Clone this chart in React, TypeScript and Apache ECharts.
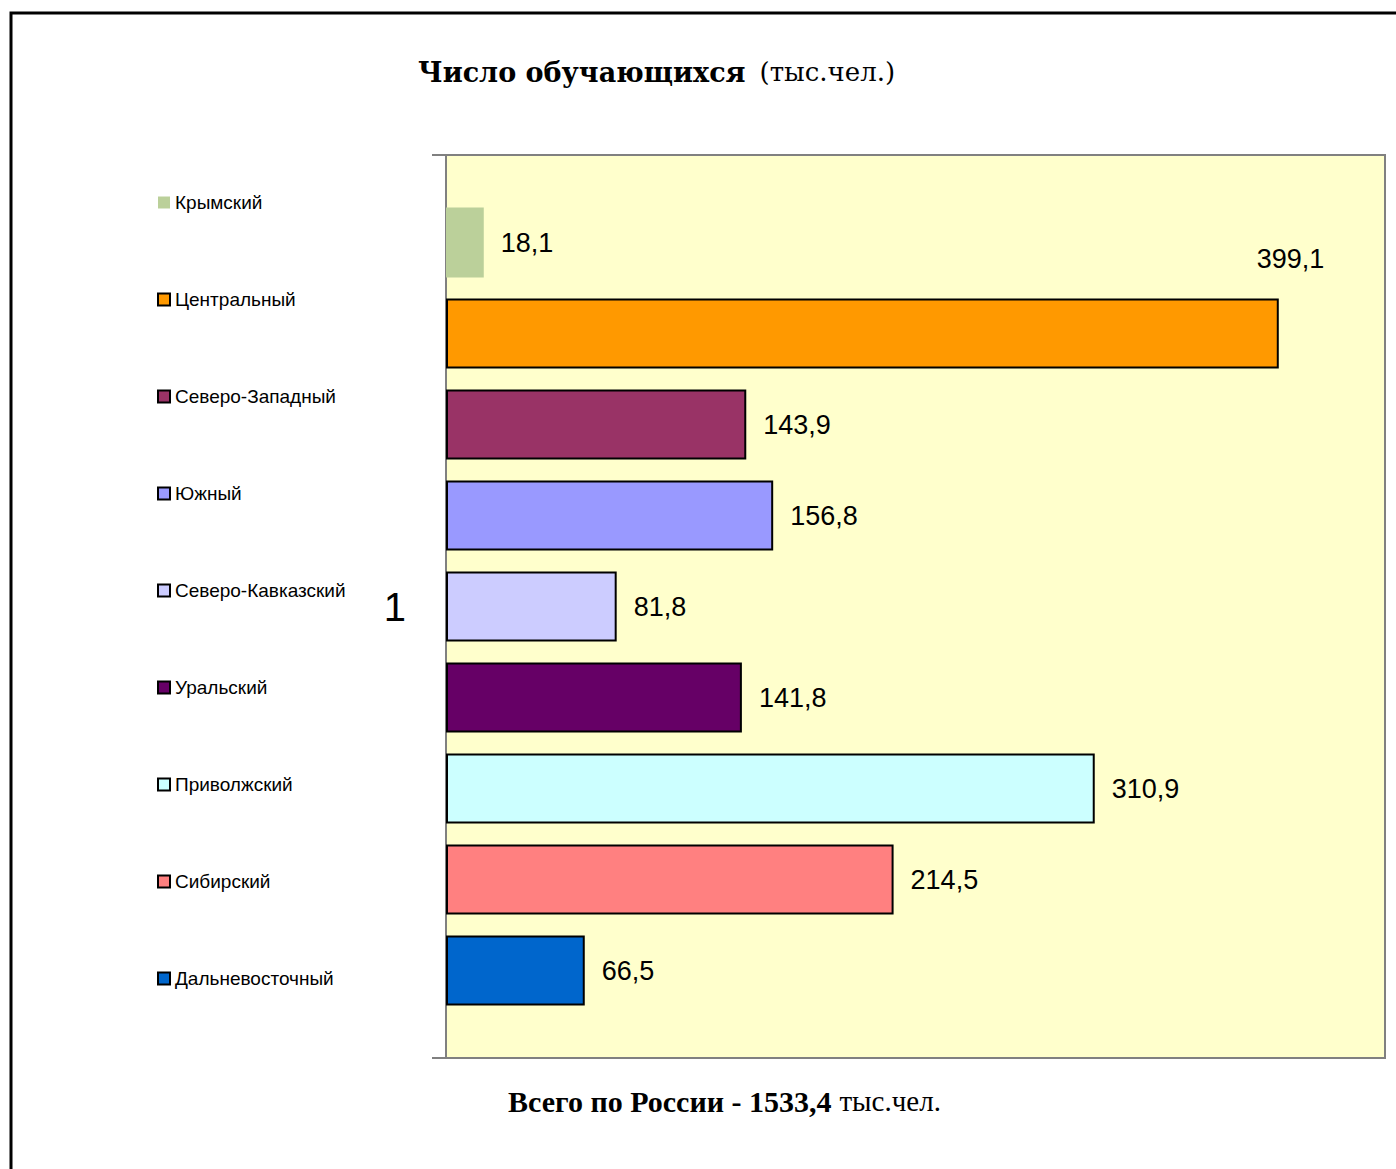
import React, { useEffect, useRef } from "react";
import * as echarts from "echarts";

const regions = [
  "Крымский",
  "Центральный",
  "Северо-Западный",
  "Южный",
  "Северо-Кавказский",
  "Уральский",
  "Приволжский",
  "Сибирский",
  "Дальневосточный",
];
const values = [18.1, 399.1, 143.9, 156.8, 81.8, 141.8, 310.9, 214.5, 66.5];
const colors = [
  "#BBD09A",
  "#FF9900",
  "#993366",
  "#9999FF",
  "#CCCCFF",
  "#660066",
  "#CCFFFF",
  "#FF8080",
  "#0066CC",
];
const categories = ["1"];
const titleBold = "Число обучающихся";
const titleNormal = "(тыс.чел.)";
const footerBold = "Всего по России - 1533,4";
const footerNormal = "тыс.чел.";

export default function App() {
  const ref = useRef<HTMLDivElement>(null);
  useEffect(() => {
    document.body.style.margin = "0";
    const chart = echarts.init(ref.current!, null, { renderer: "svg" });
    const series = regions.map((name, i) => ({
      type: "bar",
      name,
      data: [values[i]],
      barWidth: 70,
      barGap: "30%",
      itemStyle: {
        color: colors[i],
        borderColor: "#000000",
        borderWidth: i === 0 ? 0 : 2,
      },
      label: {
        show: true,
        position: "right",
        distance: i === 1 ? 0 : 17,
        offset: i === 1 ? [-22, -75] : [0, 0],
        fontSize: 27,
        color: "#000000",
        fontFamily: "Liberation Sans",
        formatter: (p: any) => String(p.value).replace(".", ","),
      },
    }));
    chart.setOption({
      animation: false,
      backgroundColor: "#FFFFFF",
      grid: {
        left: 446,
        top: 155,
        right: 11,
        bottom: 111,
        show: true,
        backgroundColor: "#FFFFCC",
        borderColor: "#808080",
        borderWidth: 2,
      },
      xAxis: {
        type: "value",
        min: 0,
        max: 450,
        show: false,
      },
      yAxis: {
        type: "category",
        data: categories,
        inverse: true,
        axisLine: { show: true, lineStyle: { color: "#808080", width: 2 } },
        axisTick: { show: true, length: 14, lineStyle: { color: "#808080", width: 2 } },
        axisLabel: {
          fontSize: 40,
          color: "#000000",
          margin: 40,
          fontFamily: "Liberation Sans",
        },
        splitLine: { show: false },
      },
      legend: {
        orient: "vertical",
        left: 157,
        top: 193,
        padding: 0,
        itemWidth: 12,
        itemHeight: 12,
        itemGap: 78,
        icon: "rect",
        selectedMode: false,
        data: regions,
        textStyle: { fontSize: 19, color: "#000000", fontFamily: "Liberation Sans" },
      },
      graphic: [
        {
          type: "rect",
          shape: { x: 11, y: 13, width: 1420, height: 1200 },
          style: { fill: "none", stroke: "#000000", lineWidth: 3 },
          silent: true,
        },
        {
          type: "text",
          x: 418,
          y: 72,
          style: {
            text: `{b|${titleBold}}{n|${titleNormal}}`,
            verticalAlign: "middle",
            align: "left",
            rich: {
              b: {
                fontFamily: "DejaVu Serif",
                fontWeight: "bold",
                fontSize: 27,
                fill: "#000000",
              },
              n: {
                fontFamily: "DejaVu Serif",
                fontSize: 26,
                fill: "#000000",
                padding: [0, 0, 0, 14],
              },
            },
          },
        },
        {
          type: "text",
          x: 508,
          y: 1101,
          style: {
            text: `{b|${footerBold}}{n|${footerNormal}}`,
            verticalAlign: "middle",
            align: "left",
            rich: {
              b: {
                fontFamily: "Liberation Serif",
                fontWeight: "bold",
                fontSize: 30,
                fill: "#000000",
              },
              n: {
                fontFamily: "Liberation Serif",
                fontSize: 29,
                fill: "#000000",
                padding: [0, 0, 0, 8],
              },
            },
          },
        },
      ],
      series,
    });
    return () => chart.dispose();
  }, []);
  return <div ref={ref} style={{ width: 1396, height: 1169 }} />;
}
